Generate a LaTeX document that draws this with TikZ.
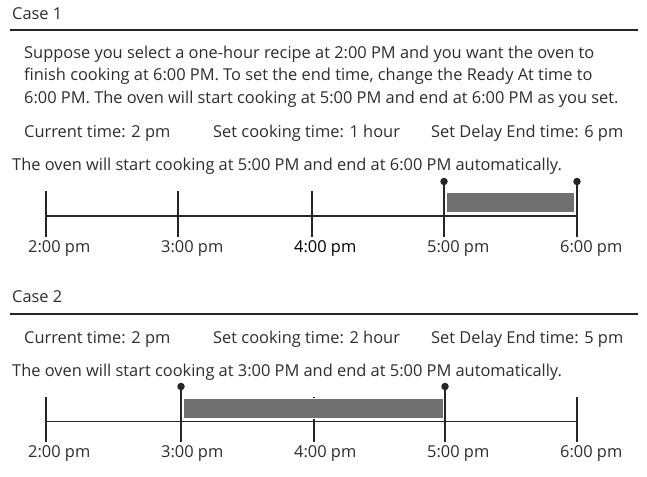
\documentclass[tikz,border=0pt]{standalone}
\usepackage{fontspec}
\setmainfont{Open Sans}
\definecolor{txt}{RGB}{45,45,45}
\definecolor{barg}{RGB}{112,112,112}
\begin{document}
\begin{tikzpicture}[x=1pt,y=-1pt,
  txtnode/.style={anchor=base west,inner sep=0pt,text=txt,font=\fontsize{16.4}{22}\selectfont},
  rule/.style={line width=1.1pt,draw=black!85},
  axis/.style={line width=1.8pt,draw=black!85},
  tickmark/.style={line width=1.8pt,draw=black!85},
  bar/.style={fill=barg,draw=white,line width=1pt},
  dotmark/.style={circle,fill=black!85,inner sep=0pt,minimum size=7.5pt}]
\useasboundingbox (0,0) rectangle (647,476);
% ---------- Case 1 ----------
\node[txtnode] (c1) at (12,19.5) {Case 1};
\coordinate (r1a) at (10,30); \coordinate (r1b) at (638,30);
\draw[rule] (r1a) -- (r1b);
\node[txtnode] (p1) at (24,59) {Suppose you select a one-hour recipe at 2:00 PM and you want the oven to};
\node[txtnode] (p2) at (24,81) {finish cooking at 6:00 PM. To set the end time, change the Ready At time to};
\node[txtnode] (p3) at (24,103) {6:00 PM. The oven will start cooking at 5:00 PM and end at 6:00 PM as you set.};
\node[txtnode] (h1a) at (24,137.5) {Current time: 2 pm};
\node[txtnode] (h1b) at (213,137.5) {Set cooking time: 1 hour};
\node[txtnode] (h1c) at (431,137.5) {Set Delay End time: 6 pm};
\node[txtnode] (s1) at (12,170.5) {The oven will start cooking at 5:00 PM and end at 6:00 PM automatically.};
% timeline 1
\coordinate (a1) at (46,216); \coordinate (b1) at (577,216);
\draw[axis] (a1) -- (b1);
\coordinate (t1a) at (46,191);  \coordinate (t1ab) at (46,237);
\coordinate (t1b) at (178,191); \coordinate (t1bb) at (178,237);
\coordinate (t1c) at (312,191); \coordinate (t1cb) at (312,237);
\draw[tickmark] (t1a) -- (t1ab);
\draw[tickmark] (t1b) -- (t1bb);
\draw[tickmark] (t1c) -- (t1cb);
\node[dotmark] (d1a) at (444,181.5) {};
\node[dotmark] (d1b) at (577,181.5) {};
\coordinate (t1db) at (444,237); \coordinate (t1eb) at (577,237);
\draw[tickmark] (d1a.center) -- (t1db);
\draw[tickmark] (d1b.center) -- (t1eb);
\draw[bar] (446.5,192.5) rectangle (574.5,212.5);
\node[txtnode] (l1a) at (28,252.5) {2:00 pm};
\node[txtnode] (l1b) at (161,252.5) {3:00 pm};
\node[txtnode,text=black] (l1c) at (294,252.5) {4:00 pm};
\node[txtnode] (l1d) at (427,252.5) {5:00 pm};
\node[txtnode] (l1e) at (560,252.5) {6:00 pm};
% ---------- Case 2 ----------
\node[txtnode] (c2) at (12,302.5) {Case 2};
\coordinate (r2a) at (10,314); \coordinate (r2b) at (638,314);
\draw[rule] (r2a) -- (r2b);
\node[txtnode] (h2a) at (24,343.5) {Current time: 2 pm};
\node[txtnode] (h2b) at (213,343.5) {Set cooking time: 2 hour};
\node[txtnode] (h2c) at (431,343.5) {Set Delay End time: 5 pm};
\node[txtnode] (s2) at (12,376.5) {The oven will start cooking at 3:00 PM and end at 5:00 PM automatically.};
% timeline 2
\coordinate (a2) at (46,421.5); \coordinate (b2) at (577,421.5);
\draw[axis] (a2) -- (b2);
\coordinate (t2a) at (46,397);  \coordinate (t2ab) at (46,442);
\coordinate (t2c) at (314,397); \coordinate (t2cb) at (314,442);
\coordinate (t2e) at (577,397); \coordinate (t2eb) at (577,442);
\draw[tickmark] (t2a) -- (t2ab);
\draw[tickmark] (t2c) -- (t2cb);
\draw[tickmark] (t2e) -- (t2eb);
\node[dotmark] (d2a) at (181,386.5) {};
\node[dotmark] (d2b) at (445,386.5) {};
\coordinate (t2bb) at (181,442); \coordinate (t2db) at (445,442);
\draw[tickmark] (d2a.center) -- (t2bb);
\draw[tickmark] (d2b.center) -- (t2db);
\draw[bar] (183,398.5) rectangle (443,418.5);
\node[txtnode] (l2a) at (28,457.5) {2:00 pm};
\node[txtnode] (l2b) at (161,457.5) {3:00 pm};
\node[txtnode] (l2c) at (294,457.5) {4:00 pm};
\node[txtnode] (l2d) at (427,457.5) {5:00 pm};
\node[txtnode] (l2e) at (560,457.5) {6:00 pm};
\end{tikzpicture}
\end{document}
